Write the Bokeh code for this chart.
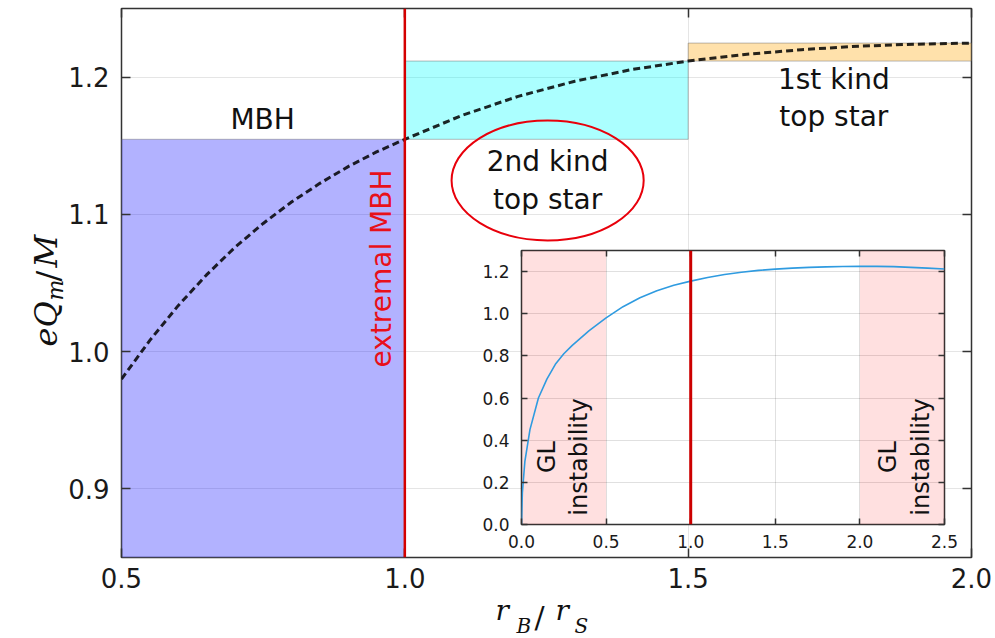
import math
from bokeh.plotting import figure
from bokeh.models import (ColumnDataSource, FixedTicker, LinearAxis, Range1d,
                          Span, GridBox)
from bokeh.core.properties import value
from bokeh.embed import file_html
from bokeh.resources import INLINE

# ---------------- data ----------------
main_r = [0.50, 0.55, 0.60, 0.65, 0.70, 0.75, 0.80, 0.85, 0.90, 0.95, 1.00,
          1.10, 1.20, 1.30, 1.40, 1.50, 1.60, 1.70, 1.80, 1.90, 2.00]
main_q = [0.980, 1.0082, 1.0335, 1.0559, 1.0759, 1.0934, 1.1090, 1.1226, 1.1348, 1.1455,
          1.1547, 1.1720, 1.1860, 1.1970, 1.2055, 1.2117, 1.2165, 1.2200, 1.2225, 1.2240,
          1.2248]

region_names = ["MBH", "2nd kind top star", "1st kind top star"]
region_left = [0.5, 1.0, 1.5]
region_right = [1.0, 1.5, 2.0]
region_bottom = [0.85, 1.1547, 1.2117]
region_top = [1.1547, 1.2117, 1.2248]

extremal_r = 1.0

inset_r = [0.0, 0.005, 0.02, 0.05, 0.10, 0.15, 0.20, 0.25, 0.30, 0.40, 0.50, 0.60,
           0.70, 0.80, 0.90, 1.00, 1.10, 1.20, 1.30, 1.40, 1.50, 1.60, 1.70, 1.80,
           1.90, 2.00, 2.10, 2.20, 2.30, 2.40, 2.50]
inset_q = [0.0, 0.15, 0.30, 0.45, 0.60, 0.69, 0.76, 0.81, 0.85, 0.92, 0.980, 1.0335,
           1.0759, 1.1090, 1.1348, 1.1547, 1.1720, 1.1860, 1.1970, 1.2055, 1.2117,
           1.2165, 1.2200, 1.2225, 1.2240, 1.2248, 1.2246, 1.2235, 1.2200, 1.2165, 1.2120]

gl_left = [0.0, 2.0]
gl_right = [0.5, 2.5]

main_xticks = [0.5, 1.0, 1.5, 2.0]
main_xtick_labels = ["0.5", "1.0", "1.5", "2.0"]
main_yticks = [0.9, 1.0, 1.1, 1.2]
main_ytick_labels = ["0.9", "1.0", "1.1", "1.2"]
inset_xticks = [0.0, 0.5, 1.0, 1.5, 2.0, 2.5]
inset_xtick_labels = ["0.0", "0.5", "1.0", "1.5", "2.0", "2.5"]
inset_yticks = [0.0, 0.2, 0.4, 0.6, 0.8, 1.0, 1.2]
inset_ytick_labels = ["0.0", "0.2", "0.4", "0.6", "0.8", "1.0", "1.2"]

# ---------------- styles ----------------
region_fill = ["#0000ff", "#00ffff", "#ffa500"]
region_alpha = [0.30, 0.33, 0.33]
RED = "#d40000"
FONT = "DejaVu Sans"
SERIF = "DejaVu Serif"
W, H = 995, 638


def style_axis(ax, ticks, labels, size, standoff, tick_len, show=True):
    ax.ticker = FixedTicker(ticks=ticks)
    ax.major_label_overrides = {t: (l if show else "") for t, l in zip(ticks, labels)}
    ax.major_tick_in = tick_len
    ax.major_tick_out = 0
    ax.minor_tick_in = 0
    ax.minor_tick_out = 0
    ax.axis_line_color = None
    ax.major_tick_line_color = "#333333"
    ax.major_tick_line_width = 1.5
    ax.major_label_text_font = FONT
    ax.major_label_text_font_size = size
    ax.major_label_text_color = "#1a1a1a"
    ax.major_label_standoff = standoff


# ---------------- main figure ----------------
p = figure(width=W, height=H, x_range=Range1d(0.5, 2.0), y_range=Range1d(0.85, 1.25),
           output_backend="svg", toolbar_location=None,
           min_border_left=121, min_border_right=24, min_border_top=8, min_border_bottom=81)
p.frame_align = False
p.outline_line_color = "#333333"
p.outline_line_width = 1.5

style_axis(p.xaxis[0], main_xticks, main_xtick_labels, "26px", 10, 9)
style_axis(p.yaxis[0], main_yticks, main_ytick_labels, "26px", 12, 9)
top_ax = LinearAxis()
right_ax = LinearAxis()
p.add_layout(top_ax, "above")
p.add_layout(right_ax, "right")
style_axis(top_ax, main_xticks, main_xtick_labels, "10px", 0, 9, show=False)
style_axis(right_ax, main_yticks, main_ytick_labels, "10px", 0, 9, show=False)

p.xgrid.ticker = FixedTicker(ticks=main_xticks)
p.ygrid.ticker = FixedTicker(ticks=main_yticks)
for g in (p.xgrid, p.ygrid):
    g.grid_line_color = "#000000"
    g.grid_line_alpha = 0.10
    g.grid_line_width = 1

reg_src = ColumnDataSource(dict(name=region_names, left=region_left, right=region_right,
                                bottom=region_bottom, top=region_top,
                                fill=region_fill, alpha=region_alpha))
p.quad(left="left", right="right", bottom="bottom", top="top", source=reg_src,
       fill_color="fill", fill_alpha="alpha", line_color="#777777", line_alpha=0.5,
       line_width=1)

p.add_layout(Span(location=extremal_r, dimension="height", line_color=RED, line_width=2.5))

p.line(main_r, main_q, line_color="black", line_alpha=0.85, line_width=3, line_dash="7 4")

p.text(x=[0.749], y=[1.1691], text=["MBH"], text_font=value(FONT), text_font_size="28px",
       text_align="center", text_baseline="middle", text_color="#111111")
p.text(x=[1.252], y=[1.1247], text=["2nd kind\ntop star"], text_font=value(FONT),
       text_font_size="28px", text_align="center", text_baseline="middle",
       text_color="#111111", text_line_height=1.15)
p.text(x=[1.757], y=[1.1848], text=["1st kind\ntop star"], text_font=value(FONT),
       text_font_size="28px", text_align="center", text_baseline="middle",
       text_color="#111111", text_line_height=1.15)
p.text(x=[0.9588], y=[1.0606], text=["extremal MBH"], angle=math.pi / 2,
       text_font=value(FONT), text_font_size="28px", text_align="center",
       text_baseline="middle", text_color="#e8101a")
p.ellipse(x=[1.252], y=[1.1247], width=[0.339], height=[0.0874], fill_color=None,
          line_color="#e8000b", line_width=2)

# ---------------- overlay for axis titles (pixel coordinates) ----------------
ov = figure(width=W, height=H, x_range=Range1d(0, W), y_range=Range1d(H, 0),
            output_backend="svg", toolbar_location=None,
            x_axis_location=None, y_axis_location=None, min_border=0)
ov.frame_align = False
ov.border_fill_color = None
ov.background_fill_color = None
ov.outline_line_color = None
ov.xgrid.visible = False
ov.ygrid.visible = False


def piece(txt, px, py, size, angle=0.0, style="italic"):
    ov.text(x=[px], y=[py], text=[txt], text_font=value(SERIF), text_font_style=style,
            text_font_size=size, angle=angle, text_align="left",
            text_baseline="alphabetic", text_color="#111111")


# x title: r_B / r_S
piece("r", 495, 610, "28px")
piece("B", 516, 625, "20px")
piece("/", 534, 617, "30px", style="normal")
piece("r", 555, 610, "28px")
piece("S", 574, 625, "20px")
# y title: eQ_m / M (rotated)
A = math.pi / 2
piece("e", 45, 346, "32px", A)
piece("Q", 45, 327, "32px", A)
piece("m", 55, 300, "22px", A)
piece("/", 47, 281, "32px", A, style="normal")
piece("M", 45, 267, "32px", A)

# ---------------- inset figure ----------------
ins = figure(width=W, height=H, x_range=Range1d(0.0, 2.5), y_range=Range1d(0.0, 1.3),
             output_backend="svg", toolbar_location=None,
             min_border_left=521, min_border_right=51, min_border_top=250,
             min_border_bottom=114)
ins.frame_align = False
ins.border_fill_color = None
ins.background_fill_color = "white"
ins.outline_line_color = "#333333"
ins.outline_line_width = 1.5

style_axis(ins.xaxis[0], inset_xticks, inset_xtick_labels, "17px", 10, 6)
style_axis(ins.yaxis[0], inset_yticks, inset_ytick_labels, "17px", 12, 6)
itop = LinearAxis()
iright = LinearAxis()
ins.add_layout(itop, "above")
ins.add_layout(iright, "right")
style_axis(itop, inset_xticks, inset_xtick_labels, "8px", 0, 6, show=False)
style_axis(iright, inset_yticks, inset_ytick_labels, "8px", 0, 6, show=False)
ins.xgrid.ticker = FixedTicker(ticks=inset_xticks)
ins.ygrid.ticker = FixedTicker(ticks=inset_yticks)
for g in (ins.xgrid, ins.ygrid):
    g.grid_line_color = "#000000"
    g.grid_line_alpha = 0.12
    g.grid_line_width = 1

ins.quad(left=gl_left, right=gl_right, bottom=[0.0, 0.0], top=[1.3, 1.3],
         fill_color="#ff0000", fill_alpha=0.12, line_color=None)
ins.add_layout(Span(location=extremal_r, dimension="height", line_color="#cc0000",
                    line_width=3))
ins.line(inset_r, inset_q, line_color="#2f9be0", line_width=1.6)
ins.text(x=[0.245, 2.264], y=[0.32, 0.32], text=["GL\ninstability", "GL\ninstability"],
         angle=math.pi / 2, text_font=value(FONT), text_font_size="24px",
         text_align="center", text_baseline="middle", text_color="#111111",
         text_line_height=1.15)

layout = GridBox(children=[(p, 0, 0), (ov, 0, 0), (ins, 0, 0)])

open("out.html", "w").write(file_html(layout, INLINE))
